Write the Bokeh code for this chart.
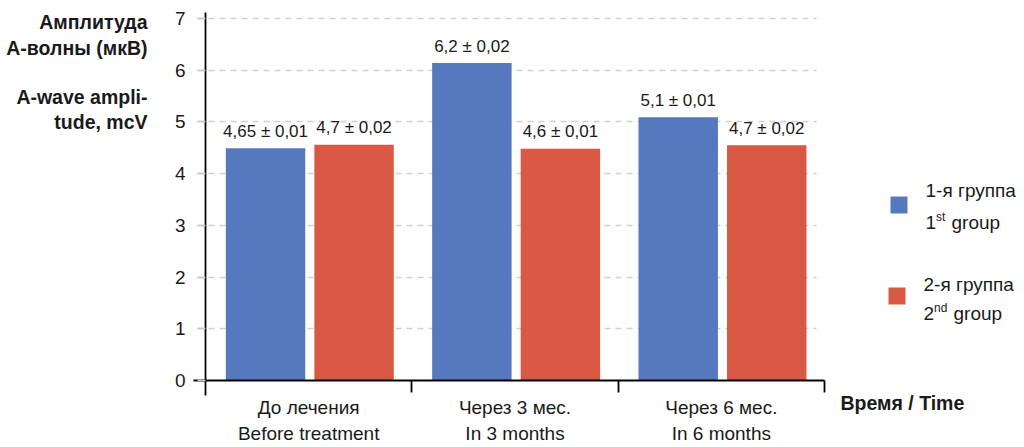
from bokeh.plotting import figure
from bokeh.models import ColumnDataSource, Label, FixedTicker, Range1d
from bokeh.core.properties import value
from bokeh.embed import file_html
from bokeh.resources import INLINE

# ---------------- data ----------------
categories_ru = ["До лечения", "Через 3 мес.", "Через 6 мес."]
categories_en = ["Before treatment", "In 3 months", "In 6 months"]
group1_values = [4.49, 6.14, 5.09]
group2_values = [4.56, 4.48, 4.55]
group1_labels = ["4,65 ± 0,01", "6,2 ± 0,02", "5,1 ± 0,01"]
group2_labels = ["4,7 ± 0,02", "4,6 ± 0,01", "4,7 ± 0,02"]
y_ticks = [0, 1, 2, 3, 4, 5, 6, 7]
series_ru = ["1-я группа", "2-я группа"]
series_num = ["1", "2"]
series_sup = ["st", "nd"]
series_en = ["group", "group"]
y_title_lines = ["Амплитуда", "А-волны (мкВ)", "A-wave ampli-", "tude, mcV"]
x_title = "Время / Time"

# ---------------- style / geometry ----------------
BLUE = "#5678BE"
RED = "#D95844"
TXT = "#1a1a1a"
GRID = "#cfcfcf"
FONT = "Liberation Sans, Arial, sans-serif"

W, H = 1024, 447
NCAT = len(categories_ru)
X0, X1 = 205, 824          # pixel position of x = 0 and x = NCAT
Y0, Y7 = 380, 18           # pixel position of y = 0 and y = 7
PX_X = (X1 - X0) / NCAT
PX_Y = (Y0 - Y7) / 7


def ix(px):
    return (px - X0) / PX_X


def iy(py):
    return (Y0 - py) / PX_Y


OFF1, OFF2, BW = -0.209, 0.220, 0.385

p = figure(width=W, height=H, output_backend="svg", toolbar_location=None,
           x_range=Range1d(ix(0), ix(W)), y_range=Range1d(iy(H), iy(0)),
           min_border=0)
p.outline_line_color = None
p.background_fill_color = "white"
p.border_fill_color = "white"

# ---------------- grid ----------------
p.xgrid.grid_line_color = None
g = p.ygrid[0]
grid_ticks = y_ticks[1:]
if "cross_bounds" in g.properties():
    g.ticker = FixedTicker(ticks=grid_ticks, minor_ticks=[])
    g.cross_bounds = (ix(197), ix(816))
    g.grid_line_color = GRID
    g.grid_line_dash = "6 5"
    g.grid_line_width = 1.5
else:
    g.grid_line_color = None
    p.segment(x0=[ix(197)] * len(grid_ticks), x1=[ix(816)] * len(grid_ticks),
              y0=grid_ticks, y1=grid_ticks, line_color=GRID, line_dash="6 5",
              line_width=1.5, level="underlay")

xc = [i + 0.5 for i in range(NCAT)]
src1 = ColumnDataSource(dict(x=[c + OFF1 for c in xc], top=group1_values, lab=group1_labels))
src2 = ColumnDataSource(dict(x=[c + OFF2 for c in xc], top=group2_values, lab=group2_labels))

p.vbar(x="x", top="top", width=BW, source=src1, fill_color=BLUE, line_color=None)
p.vbar(x="x", top="top", width=BW, source=src2, fill_color=RED, line_color=None)

VAL_FS = 17
for s in (src1, src2):
    p.text(x="x", y="top", text="lab", source=s, text_align="center",
           text_baseline="middle", y_offset=-(11 + 0.35 * VAL_FS),
           text_font=value(FONT), text_font_size=f"{VAL_FS}px", text_color=TXT)

# ---------------- axes ----------------
p.yaxis.fixed_location = 0
p.yaxis.bounds = (iy(395), iy(12))
p.yaxis.ticker = FixedTicker(ticks=y_ticks, minor_ticks=[])
p.yaxis.axis_line_color = "black"
p.yaxis.axis_line_width = 1.8
p.yaxis.major_tick_in = 0
p.yaxis.major_tick_out = 8
p.yaxis.major_tick_line_color = "#c8c8c8"
p.yaxis.major_tick_line_width = 1.5
p.yaxis.minor_tick_line_color = None
p.yaxis.major_label_standoff = 12
p.yaxis.major_label_text_font = FONT
p.yaxis.major_label_text_font_size = "19px"
p.yaxis.major_label_text_color = TXT

p.xaxis.fixed_location = 0
p.xaxis.bounds = (ix(193), NCAT)
p.xaxis.ticker = FixedTicker(ticks=xc, minor_ticks=list(range(1, NCAT + 1)))
p.xaxis.major_label_overrides = {c: ru + "\n" + en for c, ru, en in zip(xc, categories_ru, categories_en)}
p.xaxis.axis_line_color = "black"
p.xaxis.axis_line_width = 1.8
p.xaxis.major_tick_in = 0
p.xaxis.major_tick_out = 0
p.xaxis.minor_tick_in = 0
p.xaxis.minor_tick_out = 12
p.xaxis.minor_tick_line_color = "black"
p.xaxis.minor_tick_line_width = 1.8
p.xaxis.major_label_standoff = 4
p.xaxis.major_label_text_font = FONT
p.xaxis.major_label_text_font_size = "19px"
p.xaxis.major_label_text_line_height = 1.24
p.xaxis.major_label_text_color = TXT


def add_text(x_px, base_px, text, size, bold=False, align="left"):
    # place text by its baseline (pixel) using a middle anchor
    p.add_layout(Label(x=ix(x_px), y=iy(base_px - 0.35 * size), text=text,
                       text_align=align, text_baseline="middle", text_font=FONT,
                       text_font_size=f"{size}px",
                       text_font_style="bold" if bold else "normal", text_color=TXT))


# ---------------- titles ----------------
for txt, by in zip(y_title_lines, [28, 54, 103, 128]):
    add_text(147, by, txt, 19.5, bold=True, align="right")

add_text(840, 409, x_title, 19.5, bold=True)

# ---------------- legend ----------------
leg = [(BLUE, 196, 197, 229, 925), (RED, 287, 291, 320, 923)]
p.quad(left=[ix(l[4] - 35) for l in leg], right=[ix(l[4] - 18) for l in leg],
       top=[iy(l[1]) for l in leg], bottom=[iy(l[1] + 17) for l in leg],
       fill_color=[l[0] for l in leg], line_color=None)
for k, (col, sq_top, b1, b2, x_t) in enumerate(leg):
    add_text(x_t, b1, series_ru[k], 19)
    add_text(x_t, b2, series_num[k], 19)
    add_text(x_t + 10.5, b2 - 8, series_sup[k], 12)
    add_text(x_t + 26 + 4 * k, b2, series_en[k], 19)

open("out.html", "w").write(file_html(p, INLINE))
